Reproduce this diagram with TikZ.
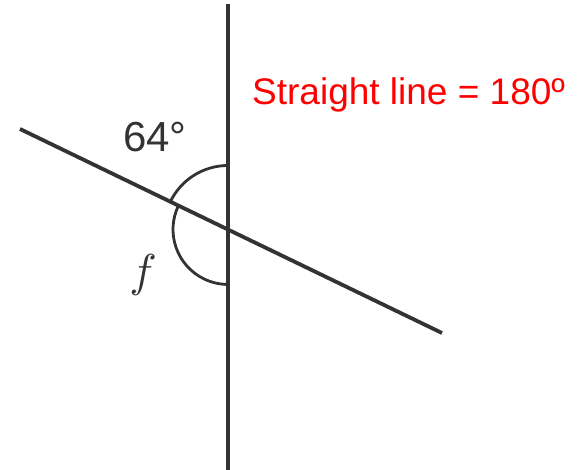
\documentclass[tikz,border=0pt]{standalone}
\usepackage{fontspec}
\usepackage{graphicx}
\setmainfont{Liberation Sans}
\definecolor{ink}{HTML}{333333}
\tikzset{
  geoline/.style={draw=ink, line width=3.8pt},
  anglearc/.style={draw=ink, line width=2.8pt},
  lbl/.style={text=ink, inner sep=0pt},
}
\begin{document}
\begin{tikzpicture}[x=1pt,y=-1pt]
\useasboundingbox (0,0) rectangle (583,470);
\coordinate (vt) at (228,4);
\coordinate (vb) at (228,470);
\coordinate (sl) at (20,129);
\coordinate (sr) at (442,333);
\coordinate (o) at (228,229.5);
\draw[geoline] (vt) -- (vb);
\draw[geoline] (sl) -- (sr);
% upper arc (64 deg), radius 64
\draw[anglearc] (o) ++(0,-64) arc[start angle=-90, end angle=-154.2, radius=64];
% lower arc (f), radius 55
\draw[anglearc] (o) ++(-49.5,-24) arc[start angle=-154.2, end angle=-270, radius=55];
\node[lbl, font=\fontsize{42}{42}\selectfont] (a64) at (155,137) {64°};
\node[lbl] (f) at (143,275) {\scalebox{4.6}{$f$}};
\node[text=red, inner sep=0pt, anchor=base west, font=\fontsize{37}{37}\selectfont] (t) at (252,105) {Straight line = 180º};
\end{tikzpicture}
\end{document}
